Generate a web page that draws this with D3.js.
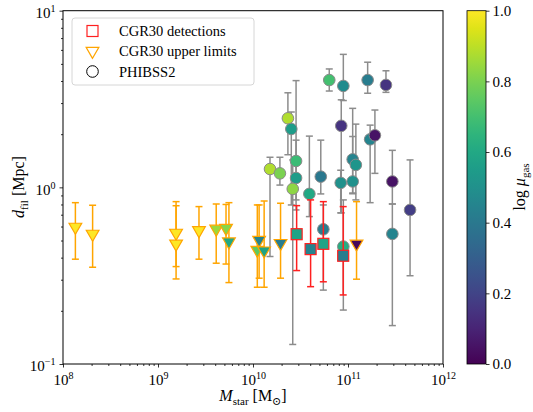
<!DOCTYPE html>
<html>
<head>
<meta charset="utf-8">
<script src="https://cdn.jsdelivr.net/npm/d3@7"></script>
<style>
  body { margin: 0; background: #fff; }
  svg text { font-family: "Liberation Serif", "DejaVu Serif", serif; }
</style>
</head>
<body>
<div id="chart"></div>
<script>
// PHIBSS2 : stellar mass, d_fil, lower / upper error, log mu_gas
const phibssMass = [1.51e10, 1.92e10, 2.33e10, 2.53e10, 2.84e10, 2.84e10, 2.62e10, 3.92e10, 5.17e10, 6.35e10,
  8.93e10, 8.49e10, 8.38e10, 1.12e11, 1.21e11, 1.12e11, 1.61e11, 1.71e11, 1.92e11, 2.51e11,
  2.93e11, 5.5e10, 8.93e10, 2.93e11, 4.5e11]
const phibssDfil = [1.27, 1.20, 2.46, 2.14, 1.41, 1.13, 0.98, 0.918, 1.15, 4.05,
  3.75, 2.23, 1.06, 1.44, 1.34, 1.08, 4.05, 1.87, 1.97, 3.80,
  1.08, 0.579, 0.462, 0.545, 0.745]
const phibssLo = [0.406, 1.03, 1.53, 0.795, 0.745, 0.849, 0.129, 0.683, 0.918, 3.51,
  3.10, 0.717, 0.717, 0.92, 0.849, 0.929, 3.41, 0.819, 1.20, 3.45,
  0.805, 0.262, 0.202, 0.165, 0.316]
const phibssHi = [1.48, 1.48, 3.43, 2.67, 4.02, 1.85, 1.43, 1.95, 1.85, 4.68,
  5.66, 3.13, 1.25, 2.80, 2.28, 1.94, 5.11, 2.25, 2.74, 4.57,
  1.62, 0.795, 0.849, 0.805, 1.43]
const phibssMu = [0.88, 0.80, 0.88, 0.55, 0.68, 0.55, 0.83, 0.60, 0.40, 0.70,
  0.48, 0.15, 0.50, 0.45, 0.52, 0.50, 0.42, 0.45, 0.05, 0.15,
  0.05, 0.42, 0.62, 0.45, 0.18]

// CGR30 detections
const detMass = [2.88e10, 4.04e10, 5.5e10, 8.9e10]
const detDfil = [0.543, 0.447, 0.479, 0.410]
const detLo = [0.338, 0.274, 0.292, 0.246]
const detHi = [0.788, 0.849, 0.830, 0.778]
const detMu = [0.58, 0.45, 0.58, 0.42]

// CGR30 upper limits
const ulMass = [1.35e8, 2.05e8, 1.55e9, 1.55e9, 2.7e9, 4.1e9, 5.2e9, 5.58e9, 1.11e10, 1.16e10, 1.31e10, 1.95e10, 1.23e11]
const ulDfil = [0.597, 0.545, 0.552, 0.479, 0.571, 0.582, 0.588, 0.493, 0.442, 0.503, 0.438, 0.483, 0.479]
const ulLo = [0.392, 0.353, 0.356, 0.303, 0.392, 0.372, 0.368, 0.289, 0.272, 0.306, 0.272, 0.306, 0.302]
const ulHi = [0.819, 0.792, 0.830, 0.787, 0.778, 0.805, 0.80, 0.819, 0.795, 0.795, 0.837, 0.813, 0.830]
const ulMu = [1.0, 1.0, 1.0, 1.0, 1.0, 0.85, 0.82, 0.60, 0.75, 0.45, 0.58, 0.42, 0.02]

const xDecades = [1e8, 1e9, 1e10, 1e11, 1e12]
const yDecades = [0.1, 1, 10]
const cbTicks = [0, 0.2, 0.4, 0.6, 0.8, 1.0]

const W = 533, H = 412
const svg = d3.select('#chart').append('svg').attr('width', W).attr('height', H)

const x = d3.scaleLog().domain([1e8, 1e12]).range([63, 443])
const y = d3.scaleLog().domain([0.1, 10]).range([364, 10.7])
const color = d3.scaleSequential(d3.interpolateViridis).domain([0, 1])

const zip = (...arrs) => arrs[0].map((_, i) => arrs.map(a => a[i]))
const phibss = zip(phibssMass, phibssDfil, phibssLo, phibssHi, phibssMu)
const det = zip(detMass, detDfil, detLo, detHi, detMu)
const ul = zip(ulMass, ulDfil, ulLo, ulHi, ulMu)

const supLabel = (sel, fmt) => sel.each(function (d) {
  const t = d3.select(this).text('')
  t.append('tspan').text('10')
  t.append('tspan').attr('dy', -6).attr('font-size', 10).text(fmt(d))
})
const expOf = d => {
  const e = Math.round(Math.log10(d))
  return e < 0 ? '\u2212' + (-e) : '' + e
}
const minors = (lo, hi) => {
  const out = []
  for (let e = lo; e < hi; e++) for (let k = 2; k <= 9; k++) out.push(k * Math.pow(10, e))
  return out
}

// axes
const gx = svg.append('g').attr('transform', 'translate(0,364)')
gx.call(d3.axisBottom(x).tickValues(minors(8, 12)).tickSize(2).tickFormat(''))
gx.call(g => g.select('.domain').remove())
const gx2 = svg.append('g').attr('transform', 'translate(0,364)')
gx2.call(d3.axisBottom(x).tickValues(xDecades).tickSize(3.5).tickPadding(3))
gx2.call(g => g.select('.domain').remove())
gx2.selectAll('.tick text').attr('font-size', 15).attr('dy', '0.95em').call(supLabel, expOf)

const gy = svg.append('g').attr('transform', 'translate(63,0)')
gy.call(d3.axisLeft(y).tickValues(minors(-1, 1)).tickSize(2).tickFormat(''))
gy.call(g => g.select('.domain').remove())
const gy2 = svg.append('g').attr('transform', 'translate(63,0)')
gy2.call(d3.axisLeft(y).tickValues(yDecades).tickSize(3.5).tickPadding(4))
gy2.call(g => g.select('.domain').remove())
gy2.selectAll('.tick text').attr('font-size', 15).attr('dy', '0.45em').call(supLabel, expOf)

svg.selectAll('.tick line').attr('stroke', '#000').attr('stroke-width', 0.8)

// frame
svg.append('rect').attr('x', 63).attr('y', 10.7).attr('width', 380).attr('height', 353.3)
  .attr('fill', 'none').attr('stroke', '#000').attr('stroke-width', 1)

// error bars + markers
const errorBars = (data, col, width) => {
  const g = svg.append('g').attr('stroke', col).attr('stroke-width', width).attr('fill', 'none')
  g.selectAll('line.v').data(data).join('line').attr('class', 'v')
    .attr('x1', d => x(d[0])).attr('x2', d => x(d[0]))
    .attr('y1', d => y(d[2])).attr('y2', d => y(d[3]))
  g.selectAll('line.lo').data(data).join('line').attr('class', 'lo')
    .attr('x1', d => x(d[0]) - 3.5).attr('x2', d => x(d[0]) + 3.5)
    .attr('y1', d => y(d[2])).attr('y2', d => y(d[2]))
  g.selectAll('line.hi').data(data).join('line').attr('class', 'hi')
    .attr('x1', d => x(d[0]) - 3.5).attr('x2', d => x(d[0]) + 3.5)
    .attr('y1', d => y(d[3])).attr('y2', d => y(d[3]))
}

errorBars(phibss, '#8c8c8c', 1.5)
svg.append('g').selectAll('circle').data(phibss).join('circle')
  .attr('cx', d => x(d[0])).attr('cy', d => y(d[1])).attr('r', 5.8)
  .attr('fill', d => color(d[4])).attr('stroke', '#8a8a8a').attr('stroke-width', 1)

errorBars(det, '#ff2020', 1.5)
svg.append('g').selectAll('rect').data(det).join('rect')
  .attr('x', d => x(d[0]) - 5.5).attr('y', d => y(d[1]) - 5.5).attr('width', 11).attr('height', 11)
  .attr('fill', d => color(d[4])).attr('stroke', '#ff2020').attr('stroke-width', 1.2)

errorBars(ul, '#ffa500', 1.5)
const tri = d3.symbol().type(d3.symbolTriangle).size(70)
svg.append('g').selectAll('path').data(ul).join('path')
  .attr('transform', d => `translate(${x(d[0])},${y(d[1])}) rotate(180)`)
  .attr('d', tri)
  .attr('fill', d => color(d[4])).attr('stroke', '#ffa500').attr('stroke-width', 1.2)

// axis labels
const xl = svg.append('text').attr('x', 253).attr('y', 401).attr('text-anchor', 'middle').attr('font-size', 16)
xl.append('tspan').attr('font-style', 'italic').text('M')
xl.append('tspan').attr('dy', 4).attr('font-size', 11).text('star')
xl.append('tspan').attr('dy', -4).text(' [M')
xl.append('tspan').attr('dy', 4).attr('font-size', 11).text('\u2299')
xl.append('tspan').attr('dy', -4).text(']')

const yl = svg.append('text').attr('transform', 'translate(24,187) rotate(-90)').attr('text-anchor', 'middle').attr('font-size', 16)
yl.append('tspan').attr('font-style', 'italic').text('d')
yl.append('tspan').attr('dy', 4).attr('font-size', 11).text('fil')
yl.append('tspan').attr('dy', -4).text(' [Mpc]')

// legend
const lg = svg.append('g')
lg.append('rect').attr('x', 72).attr('y', 18).attr('width', 182).attr('height', 67).attr('rx', 3)
  .attr('fill', '#fff').attr('fill-opacity', 0.8).attr('stroke', '#d6d6d6')
const legendRows = [
  { label: 'CGR30 detections', yy: 31 },
  { label: 'CGR30 upper limits', yy: 51 },
  { label: 'PHIBSS2', yy: 71.5 }
]
lg.append('rect').attr('x', 87).attr('y', legendRows[0].yy - 5.5).attr('width', 11).attr('height', 11)
  .attr('fill', 'none').attr('stroke', '#ff2020').attr('stroke-width', 1.2)
lg.append('path').attr('transform', `translate(92.5,${legendRows[1].yy}) rotate(180)`).attr('d', tri)
  .attr('fill', 'none').attr('stroke', '#ffa500').attr('stroke-width', 1.2)
lg.append('circle').attr('cx', 92.5).attr('cy', legendRows[2].yy).attr('r', 5.8)
  .attr('fill', 'none').attr('stroke', '#000').attr('stroke-width', 1)
lg.selectAll('text').data(legendRows).join('text')
  .attr('x', 119).attr('y', d => d.yy + 5).attr('font-size', 14.5).text(d => d.label)

// colorbar
const cb = d3.scaleLinear().domain([0, 1]).range([364, 10.7])
const defs = svg.append('defs')
const grad = defs.append('linearGradient').attr('id', 'vir').attr('x1', 0).attr('y1', 1).attr('x2', 0).attr('y2', 0)
d3.range(0, 1.0001, 0.05).forEach(t => grad.append('stop').attr('offset', t).attr('stop-color', color(t)))
svg.append('rect').attr('x', 467).attr('y', 10.7).attr('width', 19).attr('height', 353.3)
  .attr('fill', 'url(#vir)').attr('stroke', '#000').attr('stroke-width', 0.8)
const gcb = svg.append('g').attr('transform', 'translate(486,0)')
gcb.call(d3.axisRight(cb).tickValues(cbTicks).tickSize(3.5).tickPadding(3).tickFormat(d3.format('.1f')))
gcb.call(g => g.select('.domain').remove())
gcb.selectAll('.tick text').attr('font-size', 15)
gcb.selectAll('.tick line').attr('stroke', '#000').attr('stroke-width', 0.8)

const cl = svg.append('text').attr('transform', 'translate(525,187) rotate(-90)').attr('text-anchor', 'middle').attr('font-size', 16)
cl.append('tspan').text('log ')
cl.append('tspan').attr('font-style', 'italic').text('\u03bc')
cl.append('tspan').attr('dy', 4).attr('font-size', 11).text('gas')
</script>
</body>
</html>
